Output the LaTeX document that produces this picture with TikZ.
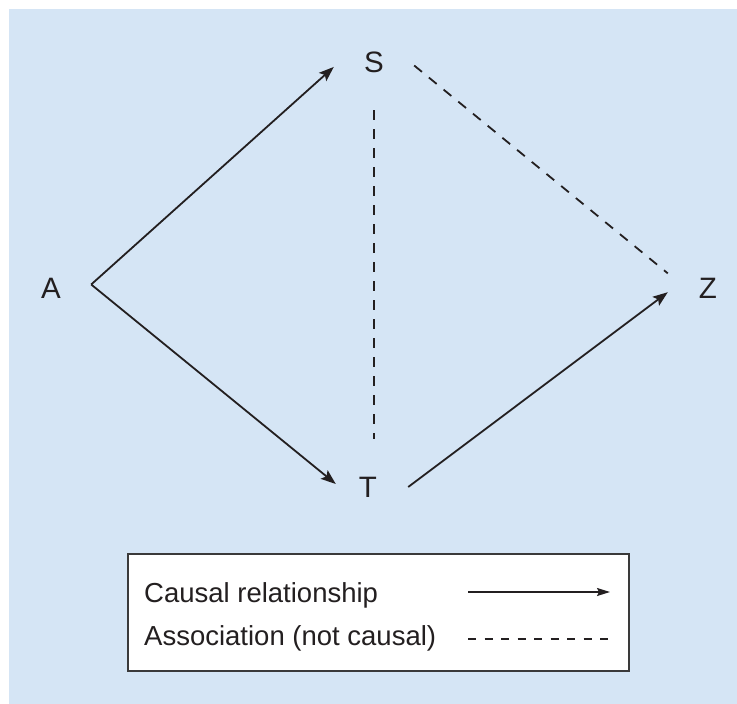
\documentclass[tikz,border=0pt]{standalone}
\usepackage{fontspec}
\setmainfont{Liberation Sans}
\usepackage{tikz}
\usetikzlibrary{arrows.meta,calc}
\definecolor{BackBlue}{HTML}{D5E5F5}
\definecolor{InkColor}{HTML}{231F20}
\definecolor{FrameGrey}{HTML}{3A3A3A}
\newcommand{\varfont}{\fontsize{29.5}{33}\selectfont}
\newcommand{\keyfont}{\fontsize{27.5}{32}\selectfont}

\begin{document}
\begin{tikzpicture}[x=1pt,y=-1pt,
  var/.style={text=InkColor,font=\varfont,minimum width=80pt,minimum height=96pt,inner sep=0pt},
  causal/.style={InkColor,line width=1.8pt,-{Stealth[length=15pt,width=11pt,inset=3pt]}},
  assoc/.style={InkColor,line width=1.8pt,dash pattern=on 10pt off 9pt},
  keytext/.style={anchor=base west,text=InkColor,font=\keyfont,inner sep=0pt}]
  \useasboundingbox (0,0) rectangle (737,704);
  \fill[BackBlue] (9,9) rectangle (737,704);
  \node[var] (A) at (51,288){A};
  \node[var] (S) at (374,62){S};
  \node[var] (T) at (368,487){T};
  \node[var] (Z) at (708,288){Z};
  \draw[causal] (A.5) -- (S.187);
  \draw[causal] (A.5) -- ([xshift=8pt,yshift=3pt]T.west);
  \draw[causal] (T.east) -- (Z.186);
  \draw[assoc] (S.-5) -- (Z.160);
  \draw[assoc] (S.south) -- (S.south |- T.north);
  \node[draw=FrameGrey,line width=1.6pt,fill=white,minimum width=501pt,minimum height=117pt,inner sep=0pt] (legend) at (378.5,612.5){};
  \node[keytext] (causaltxt) at (144,602){Causal relationship};
  \node[keytext] (assoctxt) at (144,645){Association (not causal)};
  \coordinate (causalL) at (468,592);
  \coordinate (causalR) at (610,592);
  \coordinate (assocL) at (468,639);
  \coordinate (assocR) at (610,639);
  \draw[InkColor,line width=1.5pt,-{Stealth[length=13pt,width=8pt,inset=2pt]}] (causalL) -- (causalR);
  \draw[assoc,line width=1.5pt,dash pattern=on 8pt off 8.5pt] (assocL) -- (assocR);
\end{tikzpicture}
\end{document}
